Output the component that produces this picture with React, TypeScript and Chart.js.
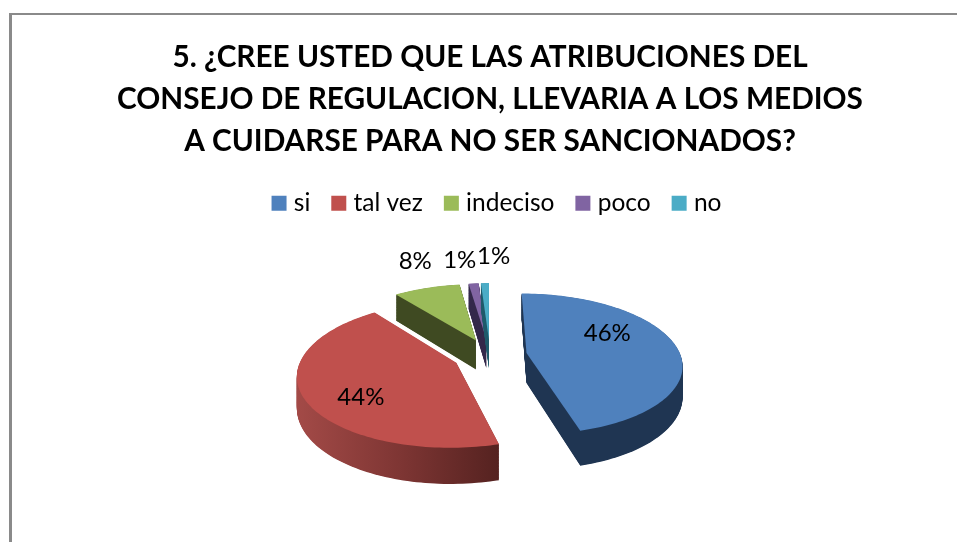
import React, { useEffect, useRef } from "react";
import { Chart, registerables } from "chart.js";

Chart.register(...registerables);

const titleLines = [
  "5. ¿CREE USTED QUE LAS ATRIBUCIONES DEL",
  "CONSEJO DE REGULACION, LLEVARIA A LOS MEDIOS",
  "A CUIDARSE PARA NO SER SANCIONADOS?",
];
const categories = ["si", "tal vez", "indeciso", "poco", "no"];
const values = [45.75, 43.75, 8.25, 1.25, 1];
const topColors = ["#4f81bd", "#c0504d", "#9bbb59", "#8064a2", "#4bacc6"];
const wallColors = [
  ["#1f3552", "#1f3552", "#1f3552"],
  ["#a34a47", "#7f3634", "#552220"],
  ["#3f4a22", "#3f4a22", "#3f4a22"],
  ["#33284a", "#33284a", "#33284a"],
  ["#1e5a6a", "#1e5a6a", "#1e5a6a"],
];
// label anchor: [fraction of radius, pixel nudge x, pixel nudge y]
const labelStyle = [
  [0.52, 3, -15],
  [0.55, -14, 16],
  [1.08, -8, -23],
  [1.08, -13, -19],
  [1.08, 9, -23],
];

const EXPLODE = 37;
const TILT = 0.45;
const DISTANCE = 1000;
const DEPTH = 30;
const LEGEND_SHIFT = 9;

const total = values.reduce((a, b) => a + b, 0);

const project = (cx: number, cy: number, u: number, v: number) => {
  const s = 1 / (1 - v / DISTANCE);
  return { x: cx + u * s, y: cy + TILT * v * s, s };
};

const slicePoints = (arc: any) => {
  const mid = (arc.startAngle + arc.endAngle) / 2;
  const ou = Math.cos(mid) * EXPLODE;
  const ov = Math.sin(mid) * EXPLODE;
  const pts = [project(arc.x, arc.y, ou, ov)];
  const steps = Math.max(4, Math.ceil((arc.endAngle - arc.startAngle) * 40));
  for (let i = 0; i <= steps; i++) {
    const a = arc.startAngle + ((arc.endAngle - arc.startAngle) * i) / steps;
    pts.push(
      project(
        arc.x,
        arc.y,
        ou + Math.cos(a) * arc.outerRadius,
        ov + Math.sin(a) * arc.outerRadius
      )
    );
  }
  return pts;
};

const tracePath = (ctx: CanvasRenderingContext2D, pts: any[], t: number) => {
  ctx.beginPath();
  pts.forEach((p, i) => {
    const y = p.y + DEPTH * p.s * t;
    if (i === 0) ctx.moveTo(p.x, y);
    else ctx.lineTo(p.x, y);
  });
  ctx.closePath();
};

const pie3d = {
  id: "pie3d",
  afterLayout(chart: any) {
    chart.legend.left += LEGEND_SHIFT;
    chart.legend.right += LEGEND_SHIFT;
  },
  beforeDatasetDraw(chart: any) {
    const ctx = chart.ctx as CanvasRenderingContext2D;
    const arcs = chart.getDatasetMeta(0).data;
    arcs.forEach((arc: any, i: number) => {
      const pts = slicePoints(arc);
      const xs = pts.map((p) => p.x);
      const g = ctx.createLinearGradient(
        Math.min(...xs),
        0,
        Math.max(...xs),
        0
      );
      g.addColorStop(0, wallColors[i][0]);
      g.addColorStop(0.5, wallColors[i][1]);
      g.addColorStop(1, wallColors[i][2]);
      ctx.fillStyle = g;
      for (let d = DEPTH * 2; d >= 1; d--) {
        tracePath(ctx, pts, d / (DEPTH * 2));
        ctx.fill();
      }
      ctx.fillStyle = topColors[i];
      tracePath(ctx, pts, 0);
      ctx.fill();
    });
    return false;
  },
  afterDatasetsDraw(chart: any) {
    const ctx = chart.ctx as CanvasRenderingContext2D;
    const arcs = chart.getDatasetMeta(0).data;
    ctx.save();
    ctx.font = "24px Lato";
    ctx.fillStyle = "#000";
    ctx.textAlign = "center";
    ctx.textBaseline = "middle";
    arcs.forEach((arc: any, i: number) => {
      const mid = (arc.startAngle + arc.endAngle) / 2;
      const [f, nx, ny] = labelStyle[i];
      const r = EXPLODE + arc.outerRadius * f;
      const p = project(arc.x, arc.y, Math.cos(mid) * r, Math.sin(mid) * r);
      ctx.fillText(
        `${Math.round((values[i] / total) * 100)}%`,
        p.x + nx,
        p.y + ny
      );
    });
    ctx.restore();
  },
};

export default function App() {
  const ref = useRef<HTMLCanvasElement>(null);
  useEffect(() => {
    const chart = new Chart(ref.current!, {
      type: "pie",
      data: {
        labels: categories,
        datasets: [
          {
            data: values,
            backgroundColor: topColors,
            borderWidth: 0,
          },
        ],
      },
      options: {
        responsive: false,
        animation: false,
        events: [],
        radius: 154,
        layout: { padding: { left: 23, right: 0, top: 0, bottom: 57 } },
        plugins: {
          title: {
            display: true,
            text: titleLines,
            color: "#000",
            font: { family: "Lato", size: 29.75, weight: "bold", lineHeight: "42px" },
            padding: { top: 36, bottom: 3 },
          },
          legend: {
            display: true,
            position: "top",
            labels: {
              color: "#000",
              font: { family: "Lato", size: 24.5 },
              usePointStyle: true,
              pointStyle: "rect",
              boxWidth: 5,
              boxHeight: 15,
              padding: 26,
            },
          },
          tooltip: { enabled: false },
        },
      },
      plugins: [pie3d],
    } as any);
    return () => chart.destroy();
  }, []);
  return (
    <div
      style={{
        position: "absolute",
        left: 0,
        top: 0,
        width: 957,
        height: 542,
        overflow: "hidden",
        background: "#fff",
      }}
    >
      <div
        style={{
          position: "absolute",
          left: 9,
          top: 13,
          width: 1000,
          height: 600,
          borderLeft: "3px solid #8a8a8a",
          borderTop: "2px solid #8a8a8a",
        }}
      />
      <canvas
        ref={ref}
        width={957}
        height={542}
        style={{ position: "absolute", left: 0, top: 0 }}
      />
    </div>
  );
}
